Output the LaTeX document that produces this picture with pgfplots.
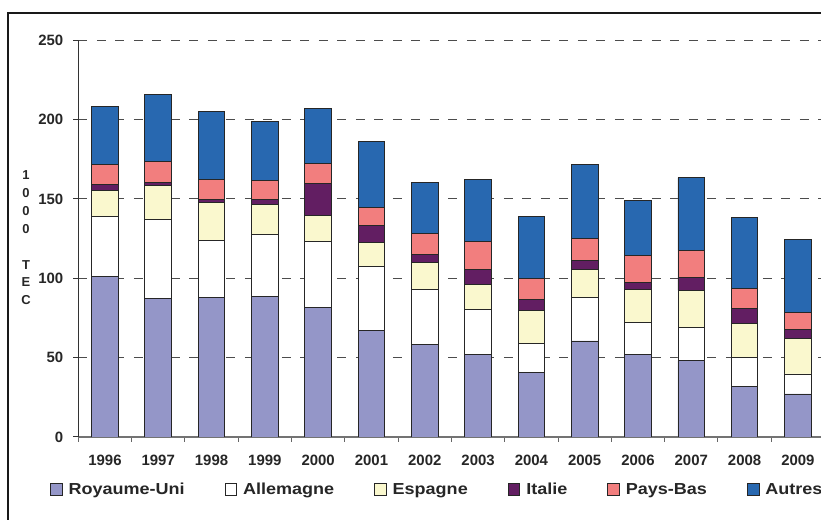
\documentclass[border=0pt]{standalone}
\usepackage{pgfplots}
\usepackage{pgfplotstable}
\pgfplotsset{compat=1.18}
\usepackage{fontspec}
\setmainfont{Liberation Sans}
\newfontfamily\legfont{Liberation Sans}[FakeStretch=1.13]
\definecolor{cUK}{RGB}{148,150,200}
\definecolor{cDE}{RGB}{255,255,255}
\definecolor{cES}{RGB}{250,248,206}
\definecolor{cIT}{RGB}{98,30,98}
\definecolor{cNL}{RGB}{242,126,126}
\definecolor{cOT}{RGB}{40,104,176}
\pgfplotstableread{
x UK DE ES IT NL OT
0 101.4 37.8 16.1 4.0 12.4 36.3
1 87.3 49.8 21.4 1.9 13.2 42.2
2 87.7 35.9 24.2 1.6 13.1 42.6
3 88.8 38.8 18.9 3.2 12.1 37.0
4 81.9 41.3 16.4 20.3 12.2 34.9
5 67.2 40.3 15.1 10.5 11.3 41.8
6 58.4 34.6 17.0 5.0 13.3 32.1
7 52.1 28.1 16.0 9.2 17.8 38.8
8 40.7 18.1 20.7 7.0 13.4 38.8
9 60.5 27.2 18.1 5.5 13.8 46.6
10 52.3 20.1 20.6 4.4 17.0 34.8
11 48.1 21.0 23.3 8.2 17.0 45.9
12 32.1 18.3 21.2 9.2 12.6 44.7
13 27.1 12.6 22.2 5.9 10.7 46.0
}\data
\begin{document}
\begin{tikzpicture}[x=1bp,y=1bp]
\useasboundingbox (0,0) rectangle (821,520);
\draw[line width=2bp, black!90] (8.3,0) -- (8.3,507) -- (821,507);
\begin{axis}[
  at={(78.3bp,83bp)}, anchor=south west,
  scale only axis, width=742.7bp, height=396.7bp,
  ybar stacked, bar width=0.5,
  xmin=-0.5, xmax=13.434, ymin=0, ymax=250,
  axis x line*=bottom, axis y line*=left,
  x axis line style={black!55, line width=1.2bp},
  y axis line style={black!80, line width=1bp},
  xtick={0,...,13},
  xticklabels={1996,1997,1998,1999,2000,2001,2002,2003,2004,2005,2006,2007,2008,2009},
  major x tick style={draw=none},
  minor xtick={-0.5,0.5,...,12.5},
  minor x tick style={black!60, line width=1bp},
  ytick={0,50,...,250},
  y tick style={black!80, line width=1bp},
  tick align=outside,
  major tick length=5bp, minor tick length=5bp,
  ymajorgrids,
  grid style={black!70, line width=1bp, dash pattern=on 9bp off 9.5bp},
  tick label style={font=\fontsize{15}{18}\selectfont\bfseries, text=black!85},
  xticklabel style={yshift=-10bp},
  yticklabel style={xshift=-6.5bp},
  /pgf/number format/assume math mode=true,
  ylabel={1\\0\\0\\0\\[18bp]T\\E\\C},
  ylabel style={rotate=-90, align=center, at={(axis description cs:-0.0704,0.5024)}, anchor=center, font=\fontsize{13}{18}\selectfont\bfseries, text=black!85},
  legend columns=6,
  legend image code/.code={\draw[#1] (0bp,-5.8bp) rectangle (11.6bp,5.8bp);},
  legend style={at={(axis description cs:-0.0381,-0.1318)}, anchor=west,
    draw=none, fill=none, inner sep=0pt, outer sep=0pt,
    font=\legfont\fontsize{16}{19}\selectfont\bfseries,
    text=black!85,
    nodes={inner xsep=0pt},
    /tikz/every odd column/.append style={column sep=6bp},
    /tikz/every even column/.append style={column sep=40bp}},
]
\addplot[fill=cUK, draw=black!85, line width=0.9bp] table[x=x,y=UK]{\data};
\addplot[fill=cDE, draw=black!85, line width=0.9bp] table[x=x,y=DE]{\data};
\addplot[fill=cES, draw=black!85, line width=0.9bp] table[x=x,y=ES]{\data};
\addplot[fill=cIT, draw=black!85, line width=0.9bp] table[x=x,y=IT]{\data};
\addplot[fill=cNL, draw=black!85, line width=0.9bp] table[x=x,y=NL]{\data};
\addplot[fill=cOT, draw=black!85, line width=0.9bp] table[x=x,y=OT]{\data};
\legend{Royaume-Uni,Allemagne,Espagne,Italie,Pays-Bas,Autres}
\end{axis}
\end{tikzpicture}
\end{document}
